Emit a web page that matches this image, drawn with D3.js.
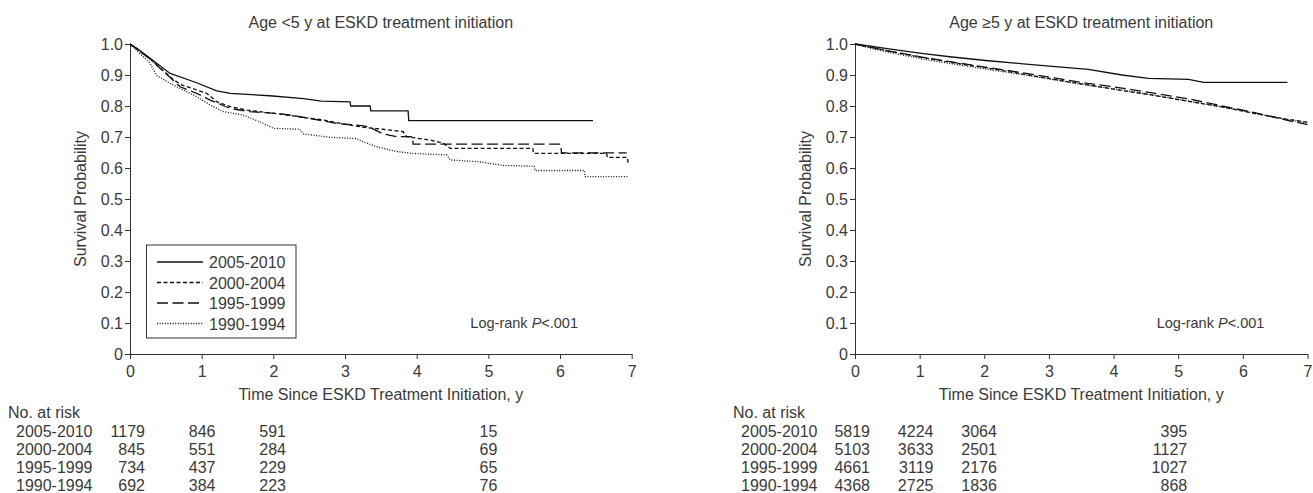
<!DOCTYPE html>
<html>
<head>
<meta charset="utf-8">
<script src="https://d3js.org/d3.v7.min.js"></script>
<style>
  body { margin: 0; background: #fff; }
  text { font-family: "Liberation Sans", Arial, sans-serif; fill: #3a3a3a; }
</style>
</head>
<body>
<script>
// cohort labels and line dash styles (same order everywhere)
var cohorts = ["2005-2010", "2000-2004", "1995-1999", "1990-1994"];
var dashes = [null, "4,2.5", "11,4.5", "1,1.6"];

// Kaplan-Meier curves, [years, survival]
// age < 5 y
var young0510 = [[0,1],[0.1,0.985],[0.28,0.954],[0.56,0.905],[0.93,0.875],[1.21,0.849],[1.40,0.841],[1.95,0.833],[2.42,0.824],[2.67,0.816],[3.07,0.813],[3.08,0.80],[3.35,0.80],[3.36,0.784],[3.88,0.784],[3.89,0.753],[6.46,0.753]];
var young0004 = [[0,1],[0.28,0.952],[0.6,0.886],[0.72,0.868],[1.07,0.841],[1.21,0.814],[1.40,0.798],[1.63,0.787],[1.95,0.778],[2.19,0.771],[2.42,0.763],[2.70,0.755],[2.98,0.742],[3.26,0.731],[3.53,0.725],[3.81,0.717],[3.86,0.701],[4.19,0.690],[4.37,0.680],[4.47,0.663],[5.62,0.663],[5.63,0.647],[6.65,0.647],[6.66,0.634],[6.94,0.634],[6.95,0.617]];
var young9599 = [[0,1],[0.28,0.952],[0.70,0.862],[0.93,0.841],[1.12,0.819],[1.40,0.792],[1.67,0.782],[2.14,0.774],[2.51,0.760],[2.88,0.744],[3.26,0.736],[3.35,0.731],[3.53,0.710],[3.72,0.701],[3.94,0.701],[3.95,0.677],[6.01,0.677],[6.02,0.649],[6.93,0.649]];
var young9094 = [[0,1],[0.28,0.938],[0.37,0.899],[0.56,0.873],[0.74,0.852],[0.93,0.830],[1.12,0.803],[1.30,0.782],[1.58,0.771],[1.86,0.744],[2.0,0.728],[2.37,0.725],[2.42,0.710],[2.79,0.699],[3.16,0.695],[3.26,0.684],[3.44,0.669],[3.72,0.653],[3.95,0.647],[4.42,0.642],[4.47,0.626],[4.88,0.620],[5.21,0.608],[5.64,0.606],[5.65,0.592],[6.34,0.592],[6.35,0.572],[6.95,0.572]];

// age >= 5 y
var old0510 = [[0,1],[0.5,0.985],[1.03,0.970],[1.5,0.958],[2.06,0.946],[2.6,0.936],[3.1,0.927],[3.61,0.918],[4.13,0.900],[4.54,0.889],[5.16,0.886],[5.39,0.876],[6.69,0.876]];
var old0004 = [[0,1],[0.5,0.978],[1.03,0.957],[1.5,0.940],[2.06,0.922],[2.6,0.903],[3.1,0.885],[3.6,0.868],[4.13,0.850],[4.6,0.835],[5.16,0.815],[5.68,0.797],[6.2,0.775],[6.66,0.758],[7,0.748]];
var old9599 = [[0,1],[0.5,0.978],[1.03,0.958],[1.5,0.942],[2.06,0.924],[2.6,0.907],[3.1,0.890],[3.6,0.873],[4.13,0.858],[4.6,0.842],[5.16,0.823],[5.68,0.800],[6.2,0.778],[6.66,0.755],[7,0.740]];
var old9094 = [[0,1],[0.26,0.985],[0.5,0.974],[1.03,0.952],[1.5,0.936],[2.06,0.918],[2.6,0.901],[3.1,0.884],[3.6,0.867],[4.13,0.852],[4.6,0.836],[5.16,0.816],[5.68,0.797],[6.2,0.776],[6.66,0.757],[7,0.745]];

// number at risk table
var riskTimes = [0, 1, 2, 5];
var riskYoung = [[1179, 846, 591, 15], [845, 551, 284, 69], [734, 437, 229, 65], [692, 384, 223, 76]];
var riskOld = [[5819, 4224, 3064, 395], [5103, 3633, 2501, 1127], [4661, 3119, 2176, 1027], [4368, 2725, 1836, 868]];

var xTicks = [0, 1, 2, 3, 4, 5, 6, 7];
var yTicks = [0, 0.1, 0.2, 0.3, 0.4, 0.5, 0.6, 0.7, 0.8, 0.9, 1.0];

var width = 1313, height = 493;
var svg = d3.select("body").append("svg")
    .attr("width", width)
    .attr("height", height);

var panels = [
    { title: "Age <5 y at ESKD treatment initiation", left: 130, right: 631.7, tableX: 0,
      series: [young0510, young0004, young9599, young9094], risk: riskYoung, legend: true },
    { title: "Age \u22655 y at ESKD treatment initiation", left: 855, right: 1307.5, tableX: 725,
      series: [old0510, old0004, old9599, old9094], risk: riskOld, legend: false }
];

var y = d3.scaleLinear().domain([0, 1]).range([354, 44]);

panels.forEach(function (p) {
    var x = d3.scaleLinear().domain([0, 7]).range([p.left, p.right]);
    // the at-risk columns sit slightly off the time ticks (right-aligned)
    var xt = d3.scaleLinear().domain([0, 5]).range([x(0) + 15, x(5) + 9]);
    var g = svg.append("g");
    var mid = (p.left + p.right) / 2;

    g.append("text")
        .attr("x", mid).attr("y", 28)
        .attr("text-anchor", "middle")
        .style("font-size", "16px")
        .text(p.title);

    // axes
    var xa = g.append("g")
        .attr("transform", "translate(0,354)")
        .call(d3.axisBottom(x).tickValues(xTicks).tickFormat(d3.format("d")).tickSize(5).tickPadding(7).tickSizeOuter(0));
    var ya = g.append("g")
        .attr("transform", "translate(" + p.left + ",0)")
        .call(d3.axisLeft(y).tickValues(yTicks).tickFormat(function (d) { return d === 0 ? "0" : d3.format(".1f")(d); }).tickSize(5).tickPadding(2).tickSizeOuter(0));
    [xa, ya].forEach(function (a) {
        a.selectAll("path, line").attr("stroke", "#333");
        a.selectAll("text").style("font-size", "16px").attr("fill", "#3a3a3a").style("font-family", "Liberation Sans, Arial, sans-serif");
    });

    g.append("text")
        .attr("transform", "translate(" + (p.left - 44) + "," + y(0.5) + ") rotate(-90)")
        .attr("text-anchor", "middle")
        .style("font-size", "16px")
        .text("Survival Probability");

    g.append("text")
        .attr("x", mid).attr("y", 400)
        .attr("text-anchor", "middle")
        .style("font-size", "16px")
        .text("Time Since ESKD Treatment Initiation, y");

    // curves
    var line = d3.line()
        .x(function (d) { return x(d[0]); })
        .y(function (d) { return y(d[1]); });
    p.series.forEach(function (s, i) {
        g.append("path")
            .datum(s)
            .attr("d", line)
            .attr("fill", "none")
            .attr("stroke", "#111")
            .attr("stroke-width", 1.3)
            .attr("stroke-dasharray", dashes[i]);
    });

    var lr = g.append("text")
        .attr("x", x(5.5)).attr("y", 328)
        .attr("text-anchor", "middle")
        .style("font-size", "14.5px");
    lr.append("tspan").text("Log-rank ");
    lr.append("tspan").style("font-style", "italic").text("P");
    lr.append("tspan").text("<.001");

    // legend
    if (p.legend) {
        var lg = g.append("g");
        lg.append("rect")
            .attr("x", 146.5).attr("y", 245)
            .attr("width", 149.5).attr("height", 93)
            .attr("fill", "none").attr("stroke", "#333").attr("stroke-width", 1);
        cohorts.forEach(function (c, i) {
            var ly = 262 + i * 20.5;
            lg.append("line")
                .attr("x1", 157).attr("x2", 203)
                .attr("y1", ly).attr("y2", ly)
                .attr("stroke", "#111").attr("stroke-width", 1.3)
                .attr("stroke-dasharray", dashes[i]);
            lg.append("text")
                .attr("x", 209).attr("y", ly + 6)
                .style("font-size", "16px")
                .text(c);
        });
    }

    // number at risk
    var t = svg.append("g");
    t.append("text")
        .attr("x", p.tableX + 8).attr("y", 418)
        .style("font-size", "16px")
        .text("No. at risk");
    cohorts.forEach(function (c, i) {
        var ry = 437 + i * 18;
        t.append("text")
            .attr("x", p.tableX + 16).attr("y", ry)
            .style("font-size", "16px")
            .text(c);
        p.risk[i].forEach(function (n, j) {
            t.append("text")
                .attr("x", xt(riskTimes[j])).attr("y", ry)
                .attr("text-anchor", "end")
                .style("font-size", "16px")
                .text(n);
        });
    });
});
</script>
</body>
</html>
